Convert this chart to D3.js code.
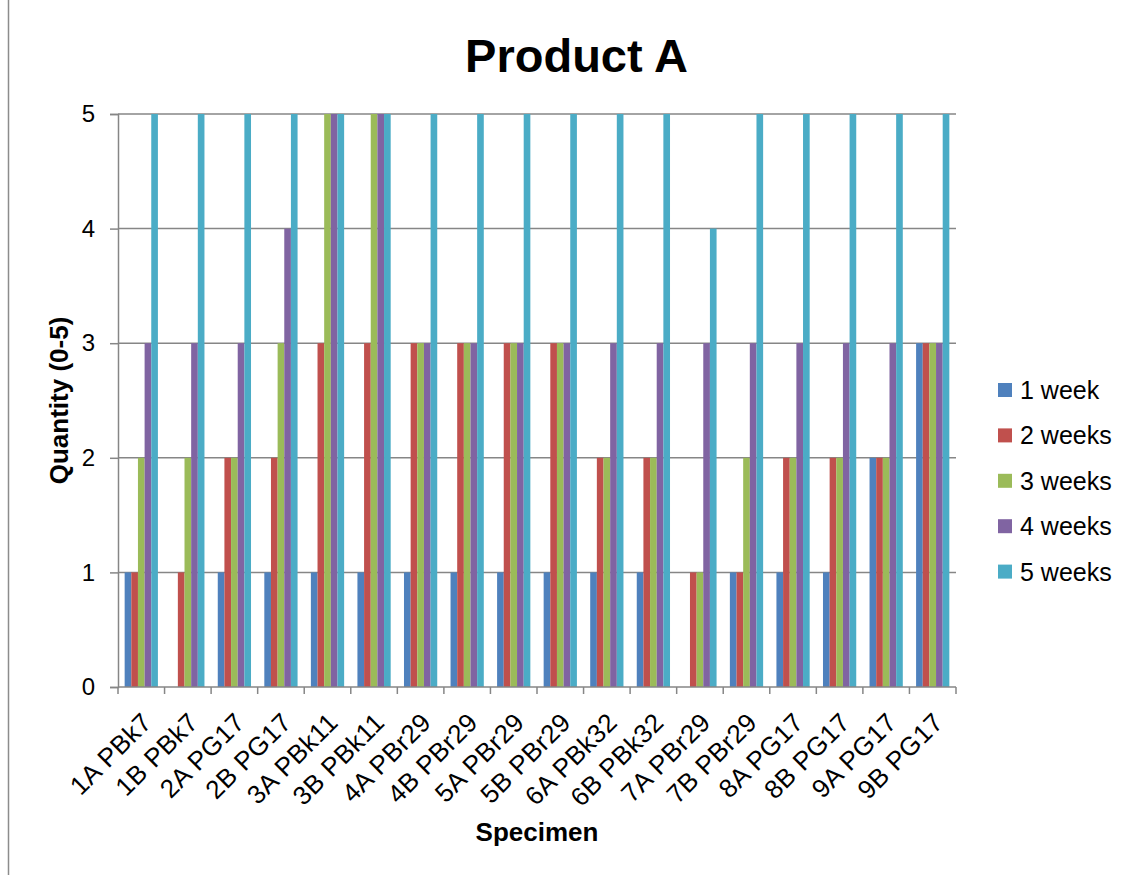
<!DOCTYPE html>
<html>
<head>
<meta charset="utf-8">
<script src="https://cdn.jsdelivr.net/npm/d3@7"></script>
<style>
  html, body { margin: 0; padding: 0; background: #fff; }
  svg { display: block; font-family: "Liberation Sans", Arial, sans-serif; }
</style>
</head>
<body>
<svg id="chart" width="1141" height="875"></svg>
<script>
// Specimens on the x axis
const categories = ["1A PBk7", "1B PBk7", "2A PG17", "2B PG17", "3A PBk11", "3B PBk11",
  "4A PBr29", "4B PBr29", "5A PBr29", "5B PBr29", "6A PBk32", "6B PBk32",
  "7A PBr29", "7B PBr29", "8A PG17", "8B PG17", "9A PG17", "9B PG17"];

// Quantity (0-5) per specimen after each exposure period
const week1 = [1, 0, 1, 1, 1, 1, 1, 1, 1, 1, 1, 1, 0, 1, 1, 1, 2, 3];
const week2 = [1, 1, 2, 2, 3, 3, 3, 3, 3, 3, 2, 2, 1, 1, 2, 2, 2, 3];
const week3 = [2, 2, 2, 3, 5, 5, 3, 3, 3, 3, 2, 2, 1, 2, 2, 2, 2, 3];
const week4 = [3, 3, 3, 4, 5, 5, 3, 3, 3, 3, 3, 3, 3, 3, 3, 3, 3, 3];
const week5 = [5, 5, 5, 5, 5, 5, 5, 5, 5, 5, 5, 5, 4, 5, 5, 5, 5, 5];

const seriesNames = ["1 week", "2 weeks", "3 weeks", "4 weeks", "5 weeks"];
const seriesValues = [week1, week2, week3, week4, week5];
const seriesColors = ["#4F81BD", "#C0504D", "#9BBB59", "#8064A2", "#4BACC6"];
const yTicks = [0, 1, 2, 3, 4, 5];

const svg = d3.select("#chart");
const plot = { left: 118, right: 956, top: 114, bottom: 687 };
const gridColor = "#868686";

// outer frame edge on the left
svg.append("line")
  .attr("x1", 8.5).attr("x2", 8.5).attr("y1", 0).attr("y2", 875)
  .attr("stroke", "#8c8c8c").attr("stroke-width", 1.5);

// one cluster per specimen, with a gap of two bar widths between clusters
const x = d3.scaleBand()
  .domain(categories)
  .range([plot.left, plot.right])
  .paddingInner(2 / 7)
  .paddingOuter(1 / 7);

const xInner = d3.scaleBand()
  .domain(seriesNames)
  .range([0, x.bandwidth()]);

const y = d3.scaleLinear().domain([0, 5]).range([plot.bottom, plot.top]);

// horizontal gridlines
svg.append("g")
  .selectAll("line")
  .data(yTicks.filter(t => t > 0))
  .join("line")
  .attr("x1", plot.left).attr("x2", plot.right)
  .attr("y1", d => y(d)).attr("y2", d => y(d))
  .attr("stroke", gridColor).attr("stroke-width", 1.5);

// clustered bars
const groups = svg.append("g")
  .selectAll("g")
  .data(seriesNames.map((name, i) => ({ name, values: seriesValues[i], color: seriesColors[i] })))
  .join("g")
  .attr("fill", d => d.color);

groups.selectAll("rect")
  .data(s => s.values.map((v, j) => ({ name: s.name, cat: categories[j], v })))
  .join("rect")
  .attr("x", d => x(d.cat) + xInner(d.name))
  .attr("y", d => y(d.v))
  .attr("width", xInner.bandwidth())
  .attr("height", d => y(0) - y(d.v));

// y axis
const yAxis = svg.append("g")
  .attr("transform", `translate(${plot.left},0)`)
  .call(d3.axisLeft(y).tickValues(yTicks).tickFormat(d3.format("d")).tickSize(8).tickPadding(15));
yAxis.select(".domain").attr("stroke", gridColor).attr("stroke-width", 1.5);
yAxis.selectAll(".tick line").attr("stroke", gridColor).attr("stroke-width", 1.5);
yAxis.selectAll(".tick text")
  .attr("font-size", 24).attr("fill", "#000")
  .attr("font-family", "Liberation Sans, Arial, sans-serif");

// x axis with tick marks on the cluster boundaries
const xAxisG = svg.append("g");
xAxisG.append("line")
  .attr("x1", plot.left).attr("x2", plot.right)
  .attr("y1", plot.bottom).attr("y2", plot.bottom)
  .attr("stroke", gridColor).attr("stroke-width", 1.5);
const edges = d3.range(categories.length + 1).map(i => plot.left + i * x.step());
xAxisG.selectAll("line.tk")
  .data(edges)
  .join("line")
  .attr("class", "tk")
  .attr("x1", d => d).attr("x2", d => d)
  .attr("y1", plot.bottom).attr("y2", plot.bottom + 7)
  .attr("stroke", gridColor).attr("stroke-width", 1.5);

xAxisG.selectAll("text")
  .data(categories)
  .join("text")
  .attr("transform", d => `translate(${x(d) + x.bandwidth() / 2 + 12},${plot.bottom + 37}) rotate(-45)`)
  .attr("text-anchor", "end")
  .attr("font-size", 26)
  .attr("letter-spacing", 0.4)
  .attr("fill", "#000")
  .text(d => d);

// titles
svg.append("text")
  .attr("x", 576.5).attr("y", 72)
  .attr("text-anchor", "middle")
  .attr("font-size", 47).attr("font-weight", "bold")
  .text("Product A");

svg.append("text")
  .attr("x", 537).attr("y", 841)
  .attr("text-anchor", "middle")
  .attr("font-size", 26).attr("font-weight", "bold")
  .text("Specimen");

svg.append("text")
  .attr("transform", `translate(68,${(plot.top + plot.bottom) / 2}) rotate(-90)`)
  .attr("text-anchor", "middle")
  .attr("font-size", 26).attr("font-weight", "bold")
  .text("Quantity (0-5)");

// legend
const legend = svg.append("g")
  .selectAll("g")
  .data(seriesNames)
  .join("g")
  .attr("transform", (d, i) => `translate(998,${383 + i * 45.4})`);
legend.append("rect")
  .attr("width", 14).attr("height", 14)
  .attr("fill", (d, i) => seriesColors[i]);
legend.append("text")
  .attr("x", 22).attr("y", 16)
  .attr("font-size", 25)
  .attr("fill", "#000")
  .text(d => d);
</script>
</body>
</html>
